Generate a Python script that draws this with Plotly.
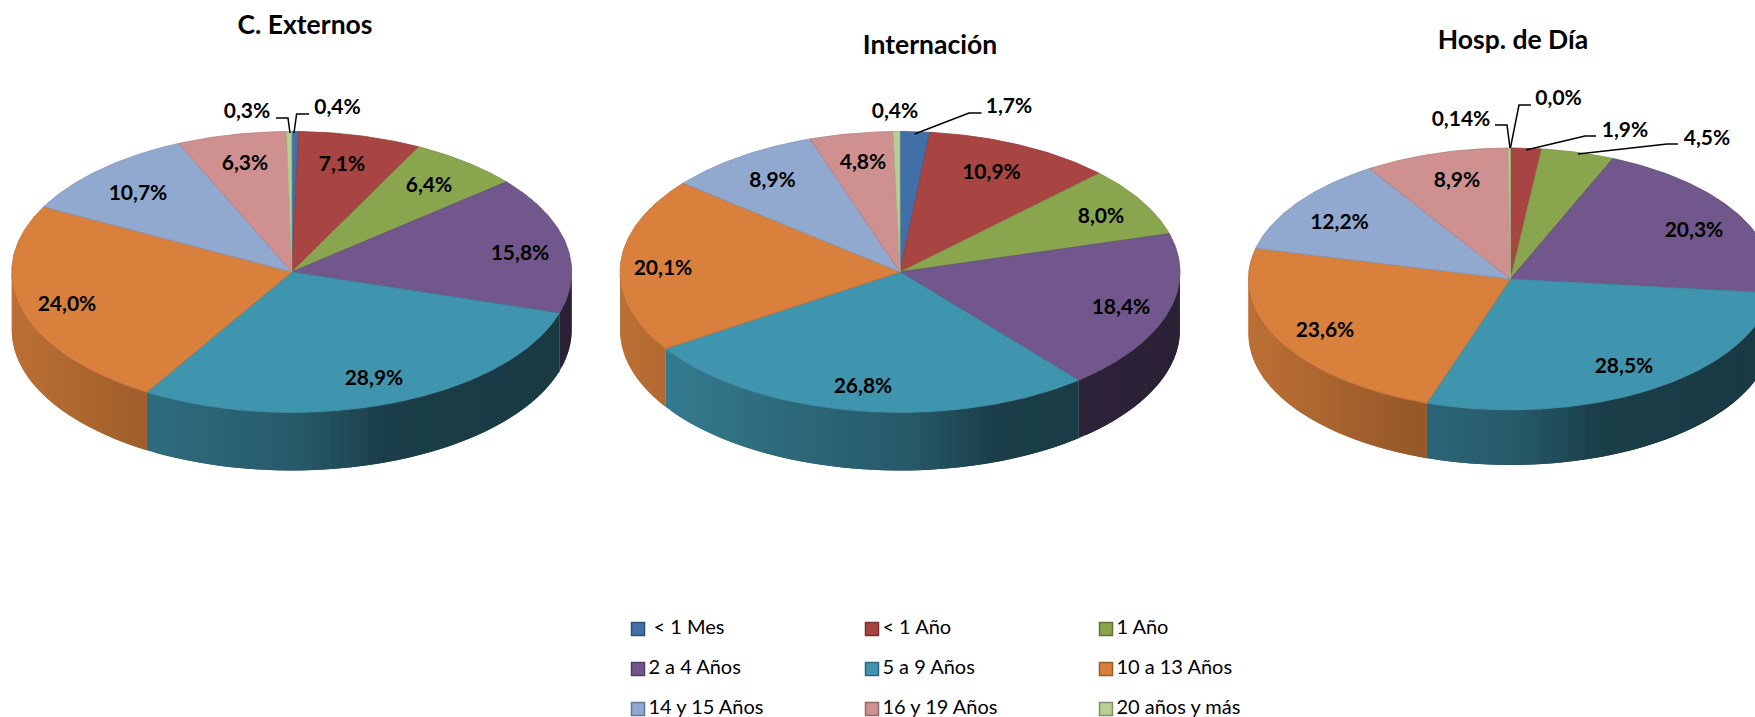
import numpy as np
import plotly.graph_objects as go

# ---------- data ----------
categories = ["\u00a0< 1 Mes", "< 1 Año", "1 Año", "2 a 4 Años", "5 a 9 Años",
              "10 a 13 Años", "14 y 15 Años", "16 y 19 Años", "20 años y más"]
externos = [0.4, 7.1, 6.4, 15.8, 28.9, 24.0, 10.7, 6.3, 0.3]
internacion = [1.7, 10.9, 8.0, 18.4, 26.8, 20.1, 8.9, 4.8, 0.4]
hosp_dia = [0.0, 1.9, 4.5, 20.3, 28.5, 23.6, 12.2, 8.9, 0.14]
titles = ["C. Externos", "Internación", "Hosp. de Día"]

# ---------- styles ----------
colors = ["#4170A8", "#A84442", "#89A54E", "#71578C", "#4095AE",
          "#D8803C", "#92A9CF", "#CF9090", "#B8CE94"]
FONT = "Lato"

# ---------- layout (pixel space of the hidden axes) ----------
pies = [
    dict(values=externos, title=titles[0], title_xy=(305, 27),
         cx=291.7, cy=272, a=280, b=140.5, depth=58,
         label_xy=[(337.5, 107), (342, 164), (429, 185), (520, 253), (374, 378),
                   (67, 304), (138, 193), (245, 163), (247, 111)],
         leaders=[[(309, 114), (296.6, 114), (294, 133)],
                  [(276, 118), (288, 118), (290, 133)]]),
    dict(values=internacion, title=titles[1], title_xy=(930, 47.5),
         cx=900, cy=272, a=280, b=140.5, depth=58,
         label_xy=[(1009, 106), (991.5, 172), (1101, 216), (1121, 307), (863, 386),
                   (663, 268), (772.6, 180), (863, 162), (895, 111)],
         leaders=[[(981.5, 113), (969, 113), (914.6, 134)]]),
    dict(values=hosp_dia, title=titles[2], title_xy=(1513, 42.5),
         cx=1510.4, cy=279, a=262, b=131, depth=55,
         label_xy=[(1558.6, 98), (1625, 130), (1707, 138), (1694, 230), (1624, 366),
                   (1325, 330), (1339.5, 222), (1457, 180), (1461, 119)],
         leaders=[[(1531, 105), (1519, 105), (1510.4, 148)],
                  [(1495, 125), (1507, 125), (1510, 148)],
                  [(1596, 136), (1585, 136), (1526, 150)],
                  [(1678, 144), (1667, 144), (1578, 154)]]),
]
LEGEND_X = [638, 872, 1106]
LEGEND_Y = [629, 669, 709]
LABEL_DY = 2.0


def shade(hex_color, k):
    r, g, b = [int(hex_color[i:i + 2], 16) for i in (1, 3, 5)]
    return f"rgb({r * k:.0f},{g * k:.0f},{b * k:.0f})"


def side_factor(u):
    return float(np.interp(u, [-1, -0.5, 0, 0.3, 1], [0.87, 0.72, 0.6, 0.42, 0.38]))


def fmt(v):
    return str(v).replace(".", ",") + "%"


fig = go.Figure()

for pie in pies:
    vals = np.array(pie["values"], dtype=float)
    edges = np.concatenate([[0], np.cumsum(vals) / vals.sum() * 2 * np.pi])
    cx, cy, a, b, depth = pie["cx"], pie["cy"], pie["a"], pie["b"], pie["depth"]

    # side wall: shaded strips on the front half of the rim, each one
    # reaching back under the next so no seams show
    for i, col in enumerate(colors):
        lo, hi = max(edges[i], np.pi / 2), min(edges[i + 1], 3 * np.pi / 2)
        if hi <= lo:
            continue
        n = max(1, int(np.ceil((hi - lo) / np.radians(2.0))))
        ts = np.linspace(lo, hi, n + 1)
        for t0, t1 in zip(ts[:-1], ts[1:]):
            t = np.linspace(max(lo, t0 - (t1 - t0)), t1, 4)
            x = cx + a * np.sin(t)
            y = cy - b * np.cos(t)
            u = np.sin((t0 + t1) / 2)
            c = shade(col, side_factor(u))
            fig.add_trace(go.Scatter(
                x=np.concatenate([x, x[::-1], x[:1]]),
                y=np.concatenate([y, (y + depth)[::-1], y[:1]]),
                mode="lines", fill="toself", fillcolor=c,
                line=dict(color=c, width=0),
                hoverinfo="skip", showlegend=False))

    # top face
    for i, col in enumerate(colors):
        if vals[i] <= 0:
            continue
        t = np.linspace(edges[i], edges[i + 1], max(3, int((edges[i + 1] - edges[i]) * 90)))
        x = np.concatenate([[cx], cx + a * np.sin(t), [cx]])
        y = np.concatenate([[cy], cy - b * np.cos(t), [cy]])
        fig.add_trace(go.Scatter(
            x=x, y=y, mode="lines", fill="toself", fillcolor=col,
            line=dict(color=shade(col, 0.88), width=0.8),
            name=categories[i].strip("\u00a0"), text=fmt(pie["values"][i]),
            hoverinfo="name+text", showlegend=False))

    # leader lines
    for seg in pie["leaders"]:
        fig.add_trace(go.Scatter(
            x=[p[0] for p in seg], y=[p[1] for p in seg], mode="lines",
            line=dict(color="#000000", width=1.5), hoverinfo="skip", showlegend=False))

    # data labels
    fig.add_trace(go.Scatter(
        x=[p[0] for p in pie["label_xy"]], y=[p[1] + LABEL_DY for p in pie["label_xy"]],
        mode="text", text=[fmt(v) for v in pie["values"]],
        textposition="middle center",
        textfont=dict(family=FONT, size=21, color="#000000", weight="bold"),
        hoverinfo="skip", showlegend=False))

    # chart title
    fig.add_trace(go.Scatter(
        x=[pie["title_xy"][0]], y=[pie["title_xy"][1]], mode="text", text=[pie["title"]],
        textposition="middle center",
        textfont=dict(family=FONT, size=26.5, color="#000000", weight="bold"),
        hoverinfo="skip", showlegend=False))

# legend, three columns by three rows
for i, (cat, col) in enumerate(zip(categories, colors)):
    fig.add_trace(go.Scatter(
        x=[LEGEND_X[i % 3]], y=[LEGEND_Y[i // 3]], mode="markers+text",
        marker=dict(symbol="square", size=13, color=col,
                    line=dict(color=shade(col, 0.7), width=1.5)),
        text=["\u200a" + cat], textposition="middle right",
        textfont=dict(family=FONT, size=20, color="#000000"),
        hoverinfo="skip", showlegend=False))

fig.update_layout(
    width=1755, height=717, margin=dict(l=0, r=0, t=0, b=0),
    paper_bgcolor="white", plot_bgcolor="white", showlegend=False,
    xaxis=dict(range=[0, 1755], visible=False, fixedrange=True),
    yaxis=dict(range=[717, 0], visible=False, fixedrange=True),
)
fig.write_html("out.html", post_script="document.body.style.margin='0';",
               config=dict(displayModeBar=False))
